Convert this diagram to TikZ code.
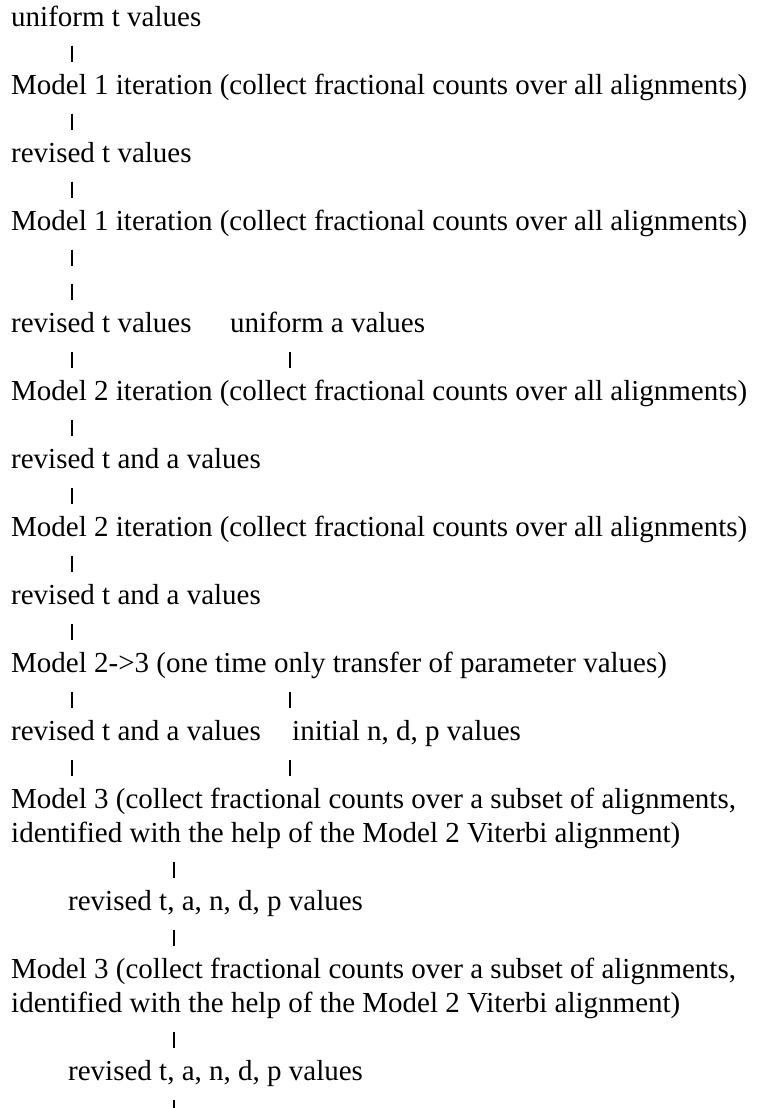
\documentclass[tikz,border=0pt]{standalone}
\usepackage{fontspec}
\setmainfont{Liberation Serif}
\usetikzlibrary{calc}

\begin{document}
\begin{tikzpicture}[
  x=1pt,y=-1pt,
  font=\fontsize{29}{34}\selectfont,
  txt/.style={anchor=base west,inner sep=0pt,text height=20pt,text depth=6pt},
  bar/.style={line width=2.8pt,shorten <=13pt,shorten >=12pt},
]
\useasboundingbox (0,0) rectangle (757,1108);
% columns of the vertical bars
\coordinate (c1) at (72,0);
\coordinate (c2) at (290,0);
\coordinate (c3) at (174,0);
% Model 1 and Model 2 stages
\node[txt] (ut) at (11,26.5) {uniform t values};
\node[txt] (m1a) at (11,94.5) {Model 1 iteration (collect fractional counts over all alignments)};
\node[txt] (rt1) at (11,162.5) {revised t values};
\node[txt] (m1b) at (11,230.5) {Model 1 iteration (collect fractional counts over all alignments)};
\node[txt] (rt2) at (11,332.5) {revised t values};
\node[txt] (ua) at (230,332.5) {uniform a values};
\node[txt] (m2a) at (11,400.5) {Model 2 iteration (collect fractional counts over all alignments)};
\node[txt] (rta1) at (11,468.5) {revised t and a values};
\node[txt] (m2b) at (11,536.5) {Model 2 iteration (collect fractional counts over all alignments)};
\node[txt] (rta2) at (11,604.5) {revised t and a values};
\node[txt] (m23) at (11,672.5) {Model 2->3 (one time only transfer of parameter values)};
\node[txt] (rta3) at (11,740.5) {revised t and a values};
\node[txt] (ini) at (292,740.5) {initial n, d, p values};
% Model 3 stages
\node[txt] (m3a) at (11,808.5) {Model 3 (collect fractional counts over a subset of alignments,};
\node[txt] (m3a2) at (11,842.5) {identified with the help of the Model 2 Viterbi alignment)};
\node[txt] (rv1) at (68,910.5) {revised t, a, n, d, p values};
\node[txt] (m3b) at (11,978.5) {Model 3 (collect fractional counts over a subset of alignments,};
\node[txt] (m3b2) at (11,1012.5) {identified with the help of the Model 2 Viterbi alignment)};
\node[txt] (rv2) at (68,1080.5) {revised t, a, n, d, p values};
\coordinate (tail) at ($(rv2.south -| c3)+(0,-42pt)$);
% bars
\draw[bar] (ut.south -| c1) -- (m1a.north -| c1);
\draw[bar] (m1a.south -| c1) -- (rt1.north -| c1);
\draw[bar] (rt1.south -| c1) -- (m1b.north -| c1);
\draw[bar,shorten >=46pt] (m1b.south -| c1) -- (rt2.north -| c1);
\draw[bar,shorten <=47pt] (m1b.south -| c1) -- (rt2.north -| c1);
\draw[bar] (rt2.south -| c1) -- (m2a.north -| c1);
\draw[bar] (ua.south -| c2) -- (m2a.north -| c2);
\draw[bar] (m2a.south -| c1) -- (rta1.north -| c1);
\draw[bar] (rta1.south -| c1) -- (m2b.north -| c1);
\draw[bar] (m2b.south -| c1) -- (rta2.north -| c1);
\draw[bar] (rta2.south -| c1) -- (m23.north -| c1);
\draw[bar] (m23.south -| c1) -- (rta3.north -| c1);
\draw[bar] (m23.south -| c2) -- (ini.north -| c2);
\draw[bar] (rta3.south -| c1) -- (m3a.north -| c1);
\draw[bar] (ini.south -| c2) -- (m3a.north -| c2);
\draw[bar] (m3a2.south -| c3) -- (rv1.north -| c3);
\draw[bar] (rv1.south -| c3) -- (m3b.north -| c3);
\draw[bar] (m3b2.south -| c3) -- (rv2.north -| c3);
\draw[bar] (rv2.south -| c3) -- (tail);
\end{tikzpicture}
\end{document}
